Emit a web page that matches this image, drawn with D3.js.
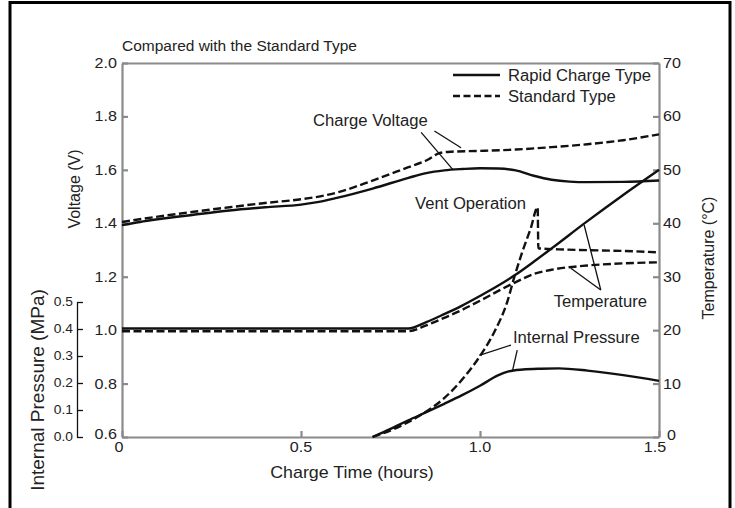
<!DOCTYPE html>
<html><head><meta charset="utf-8">
<script src="https://cdn.jsdelivr.net/npm/d3@7"></script>
<style>
html,body{margin:0;padding:0;background:#fff;}
svg{display:block;font-family:"Liberation Sans",Arial,Helvetica,sans-serif;}
</style></head><body>
<svg id="chart" width="735" height="508"></svg>
<script>
// ---- tick values ----
const timeTicks = [0, 0.5, 1.0, 1.5];
const voltageTicks = [0.6, 0.8, 1.0, 1.2, 1.4, 1.6, 1.8, 2.0];
const tempTicks = [0, 10, 20, 30, 40, 50, 60, 70];
const pressureTicks = [0, 0.1, 0.2, 0.3, 0.4, 0.5];

// ---- charge voltage (V) ----
const rapidVoltageTime = [0, 0.05, 0.1, 0.2, 0.3, 0.4, 0.5, 0.55, 0.6, 0.7, 0.8, 0.85, 0.9, 0.95, 1.0, 1.05, 1.1, 1.15, 1.2, 1.25, 1.3, 1.4, 1.5];
const rapidVoltage = [1.393, 1.405, 1.415, 1.432, 1.448, 1.460, 1.470, 1.480, 1.495, 1.530, 1.570, 1.588, 1.598, 1.603, 1.606, 1.605, 1.598, 1.578, 1.563, 1.556, 1.554, 1.555, 1.560];
const standardVoltageTime = [0, 0.1, 0.2, 0.3, 0.4, 0.5, 0.55, 0.6, 0.7, 0.8, 0.85, 0.89, 0.92, 1.0, 1.1, 1.2, 1.3, 1.4, 1.5];
const standardVoltage = [1.405, 1.425, 1.443, 1.460, 1.476, 1.490, 1.500, 1.515, 1.560, 1.610, 1.635, 1.664, 1.668, 1.671, 1.676, 1.685, 1.696, 1.711, 1.733];

// ---- temperature (°C) ----
const rapidTempTime = [0, 0.8, 0.85, 0.9, 0.95, 1.0, 1.05, 1.1, 1.15, 1.2, 1.3, 1.4, 1.5];
const rapidTemp = [20.3, 20.3, 21.5, 23.0, 24.6, 26.4, 28.3, 30.4, 32.8, 35.3, 40.4, 45.3, 50.0];
const standardTempTime = [0, 0.8, 0.85, 0.9, 0.95, 1.0, 1.05, 1.1, 1.15, 1.2, 1.3, 1.4, 1.5];
const standardTemp = [19.8, 19.8, 20.9, 22.3, 23.8, 25.5, 27.3, 29.0, 30.5, 31.3, 32.1, 32.5, 32.7];

// ---- internal pressure (MPa) ----
const rapidPressureTime = [0.7, 0.75, 0.8, 0.85, 0.9, 0.95, 1.0, 1.05, 1.08, 1.12, 1.17, 1.22, 1.3, 1.4, 1.5];
const rapidPressure = [0, 0.03, 0.062, 0.092, 0.123, 0.155, 0.19, 0.228, 0.243, 0.25, 0.253, 0.254, 0.246, 0.229, 0.208];
const standardPressureTime = [0.7, 0.76, 0.83, 0.9, 0.956, 1.0, 1.04, 1.076, 1.096, 1.118, 1.142, 1.161, 1.163, 1.22, 1.3, 1.4, 1.5];
const standardPressure = [0, 0.03, 0.078, 0.144, 0.222, 0.30, 0.389, 0.50, 0.593, 0.685, 0.774, 0.851, 0.699, 0.695, 0.692, 0.689, 0.684];

const legendLabels = ["Rapid Charge Type", "Standard Type"];

// ---- layout ----
const svg = d3.select("#chart");
const L = 122, R = 659, T = 63, B = 437;
const x = d3.scaleLinear().domain([0, 1.5]).range([L, R]);
const yV = d3.scaleLinear().domain([0.6, 2.0]).range([B, T]);
const yT = d3.scaleLinear().domain([0, 70]).range([B, T]);
const yP = d3.scaleLinear().domain([0, 0.5]).range([B, 302]);

const INK = "#222";
const AX = "#8a8a8a";

function label(px, py, str, o) {
  o = o || {};
  svg.append("text")
    .attr("transform", `translate(${px},${py})${o.rot ? ` rotate(${o.rot})` : ""} scale(${o.sx || 1},1)`)
    .attr("text-anchor", o.anchor || "start")
    .attr("dy", o.dy || 0)
    .attr("font-size", o.size || 14)
    .attr("fill", INK)
    .text(str);
}

// outer border (bottom edge falls outside the picture)
svg.append("rect").attr("x", 10).attr("y", 2.5).attr("width", 720).attr("height", 520)
  .attr("fill", "none").attr("stroke", "#000").attr("stroke-width", 3);

// axes (lines and ticks from d3 axes)
function styleAxis(g, color, w) {
  g.selectAll("path.domain").attr("stroke", color).attr("stroke-width", w);
  g.selectAll(".tick line").attr("stroke", color).attr("stroke-width", w);
  g.selectAll(".tick text").remove();
}
svg.append("g").attr("transform", `translate(${L},0)`)
  .call(d3.axisLeft(yV).tickValues(voltageTicks).tickSizeInner(-6).tickSizeOuter(0).tickFormat(""))
  .call(g => styleAxis(g, AX, 2.2));
svg.append("g").attr("transform", `translate(${R},0)`)
  .call(d3.axisRight(yT).tickValues(tempTicks).tickSizeInner(-6).tickSizeOuter(0).tickFormat(""))
  .call(g => styleAxis(g, AX, 2.2));
svg.append("g").attr("transform", `translate(0,${B})`)
  .call(d3.axisBottom(x).tickValues(timeTicks).tickSizeInner(-6).tickSizeOuter(0).tickFormat(""))
  .call(g => styleAxis(g, AX, 2.2));
svg.append("g").attr("transform", `translate(0,${T})`)
  .call(d3.axisTop(x).tickValues([]).tickSizeOuter(0))
  .call(g => styleAxis(g, AX, 2.2));
svg.append("g").attr("transform", `translate(77,0)`)
  .call(d3.axisLeft(yP).tickValues(pressureTicks).tickSizeInner(-6).tickSizeOuter(0).tickFormat(""))
  .call(g => styleAxis(g, "#111", 1.3));

// tick labels
const TS = 14, TSX = 1.15;
voltageTicks.forEach(v => label(117, yV(v) + (v === 0.6 ? -3 : 0), v.toFixed(1), {anchor: "end", dy: "0.36em", size: TS, sx: TSX}));
tempTicks.forEach(t => label(t === 0 ? 667 : 663, yT(t) + (t === 0 ? -2 : 0), String(t), {anchor: "start", dy: "0.36em", size: TS, sx: TSX}));
timeTicks.forEach(t => label(x(t) + (t === 0 ? -3 : t === 1.5 ? -4 : 0), 452, t === 0 ? "0" : t.toFixed(1), {anchor: "middle", size: TS, sx: TSX}));
pressureTicks.forEach(p => label(73, yP(p), p.toFixed(1), {anchor: "end", dy: "0.36em", size: 12, sx: TSX}));

// titles
label(122, 51, "Compared with the Standard Type", {size: 15.5});
label(352, 478, "Charge Time (hours)", {anchor: "middle", size: 17, sx: 1.05});
label(80, 189, "Voltage (V)", {anchor: "middle", rot: -90, size: 16});
label(714, 258, "Temperature (°C)", {anchor: "middle", rot: -90, size: 16});
label(44, 390, "Internal Pressure (MPa)", {anchor: "middle", rot: -90, size: 19});

// curves
function zip(ts, vs) { return ts.map((t, i) => [t, vs[i]]); }
function curve(ts, vs, yScale, dashed) {
  const line = d3.line().x(d => x(d[0])).y(d => yScale(d[1])).curve(d3.curveMonotoneX);
  svg.append("path").attr("d", line(zip(ts, vs)))
    .attr("fill", "none").attr("stroke", "#111").attr("stroke-width", 2.4)
    .attr("stroke-dasharray", dashed ? "8,3.5" : null);
}
curve(rapidVoltageTime, rapidVoltage, yV, false);
curve(standardVoltageTime, standardVoltage, yV, true);
curve(rapidTempTime, rapidTemp, yT, false);
curve(standardTempTime, standardTemp, yT, true);
curve(rapidPressureTime, rapidPressure, yP, false);
curve(standardPressureTime, standardPressure, yP, true);

// annotation leader lines (data coordinates)
function leader(t1, v1, t2, v2, yScale) {
  svg.append("line").attr("x1", x(t1)).attr("y1", yScale(v1)).attr("x2", x(t2)).attr("y2", yScale(v2))
    .attr("stroke", "#111").attr("stroke-width", 1.3);
}
leader(0.8356, 1.7406, 0.9237, 1.602, yV);
leader(0.8727, 1.7455, 0.947, 1.683, yV);
leader(1.3374, 27.51, 1.2909, 39.68, yT);
leader(1.3374, 27.51, 1.2538, 31.57, yT);
leader(1.0865, 0.3407, 0.998, 0.302, yP);
leader(1.104, 0.322, 1.090, 0.241, yP);

// annotation texts
const AS = 16, ASX = 1.04;
label(313, 126, "Charge Voltage", {size: AS, sx: ASX});
label(415, 209, "Vent Operation", {size: AS, sx: ASX});
label(647, 307, "Temperature", {anchor: "end", size: AS, sx: ASX});
label(513, 343, "Internal Pressure", {size: AS, sx: ASX});

// legend
const legendY = [75, 96];
legendLabels.forEach((s, i) => {
  svg.append("line").attr("x1", 453).attr("x2", 500).attr("y1", legendY[i]).attr("y2", legendY[i])
    .attr("stroke", "#111").attr("stroke-width", 2.4).attr("stroke-dasharray", i === 1 ? "7,3.5" : null);
  label(508, legendY[i] + 6, s, {size: AS, sx: ASX});
});
</script>
</body></html>
